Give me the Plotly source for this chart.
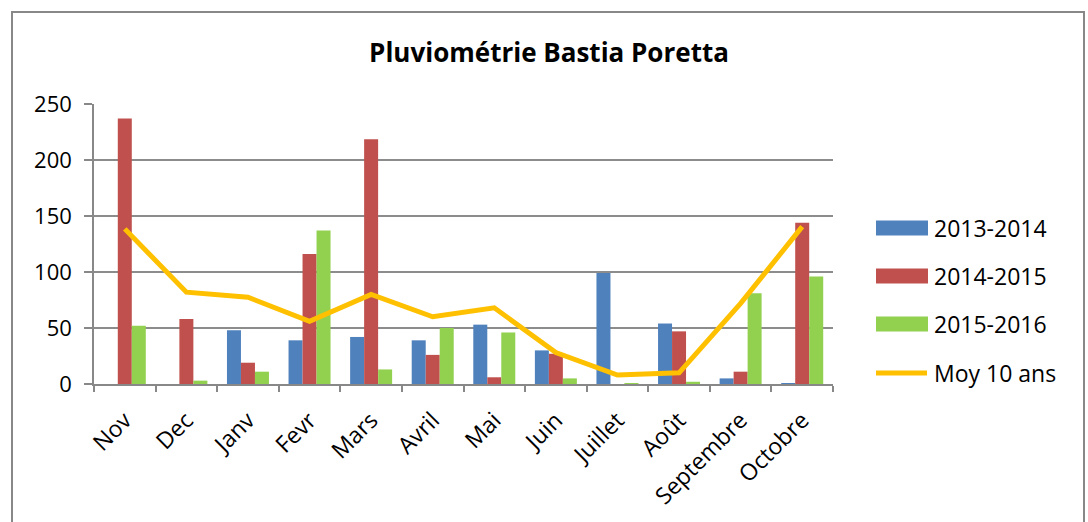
import plotly.graph_objects as go

months = ["Nov", "Dec", "Janv", "Fevr", "Mars", "Avril", "Mai", "Juin",
          "Juillet", "Août", "Septembre", "Octobre"]
s2013_2014 = [0, 0, 48, 39, 42, 39, 53, 30, 99, 54, 5, 0.5]
s2014_2015 = [237, 58, 19, 116, 218.5, 26, 6, 27, 0, 47, 11, 144]
s2015_2016 = [52, 3, 11, 137, 13, 50, 46, 5, 0.6, 2, 81, 96]
moy_10_ans = [138.5, 82, 77.5, 56, 80, 60, 68, 28, 8, 10, 72, 140.5]

series_names = ["2013-2014", "2014-2015", "2015-2016", "Moy 10 ans"]
colors = ["#4F81BD", "#C0504D", "#92D050", "#FFC000"]

FONT = "Open Sans"
fig = go.Figure()
for name, vals, col in zip(series_names[:3], [s2013_2014, s2014_2015, s2015_2016], colors[:3]):
    fig.add_trace(go.Bar(x=months, y=vals, name=name, marker_color=col,
                         marker_line_width=0))
fig.add_trace(go.Scatter(x=months, y=moy_10_ans, name=series_names[3], mode="lines",
                         line=dict(color=colors[3], width=5)))

# plot area in pixels
L, R, T, B = 94, 833, 104, 384
W, H = R - L, B - T
def px(x):
    return (x - L) / W
def py(y):
    return (B - y) / H

shapes = []
annotations = []
# outer frame
shapes.append(dict(type="rect", xref="paper", yref="paper",
                   x0=px(12), x1=px(1084), y0=py(560), y1=py(12),
                   line=dict(color="#888888", width=2), fillcolor="rgba(0,0,0,0)", layer="below"))
# manual legend
rows = [228, 276, 324, 373]
for i, (name, col) in enumerate(zip(series_names, colors)):
    yc = rows[i]
    if i < 3:
        shapes.append(dict(type="rect", xref="paper", yref="paper",
                           x0=px(876), x1=px(928), y0=py(yc + 7.5), y1=py(yc - 7.5),
                           line=dict(width=0), fillcolor=col))
    else:
        shapes.append(dict(type="line", xref="paper", yref="paper",
                           x0=px(876), x1=px(927), y0=py(yc), y1=py(yc),
                           line=dict(color=col, width=5)))
    annotations.append(dict(text=name, xref="paper", yref="paper",
                            x=px(932), y=py(yc), xanchor="left", yanchor="middle",
                            showarrow=False, font=dict(family=FONT, size=23, color="#000000")))

fig.update_layout(
    width=1088, height=522,
    margin=dict(l=L, r=1088 - R, t=T, b=522 - B),
    paper_bgcolor="white", plot_bgcolor="white",
    barmode="group", bargap=0.318, bargroupgap=0,
    showlegend=False,
    title=dict(text="<b>Pluviométrie Bastia Poretta</b>", x=px(549), xref="paper",
               xanchor="center", y=1 - 53 / 522, yanchor="middle",
               font=dict(family=FONT, size=26, color="#000000")),
    font=dict(family=FONT, size=22, color="#000000"),
    shapes=shapes, annotations=annotations,
)
fig.update_xaxes(type="category", tickangle=-45, ticks="outside", tickson="boundaries",
                 ticklen=6, tickcolor="#888888", tickwidth=1.5,
                 showline=True, linecolor="#888888", linewidth=1.5,
                 showgrid=False, tickfont=dict(family=FONT, size=23),
                 ticklabelstandoff=12)
fig.update_yaxes(range=[0, 250], dtick=50, ticks="outside", ticklen=8,
                 tickcolor="#888888", tickwidth=1.5,
                 showline=True, linecolor="#888888", linewidth=1.5,
                 showgrid=True, gridcolor="#8c8c8c", gridwidth=1.5,
                 zeroline=False, tickfont=dict(family=FONT, size=22),
                 ticklabelstandoff=8)

fig.write_html("out.html", config={"displayModeBar": False},
               post_script="document.body.style.margin='0';")
